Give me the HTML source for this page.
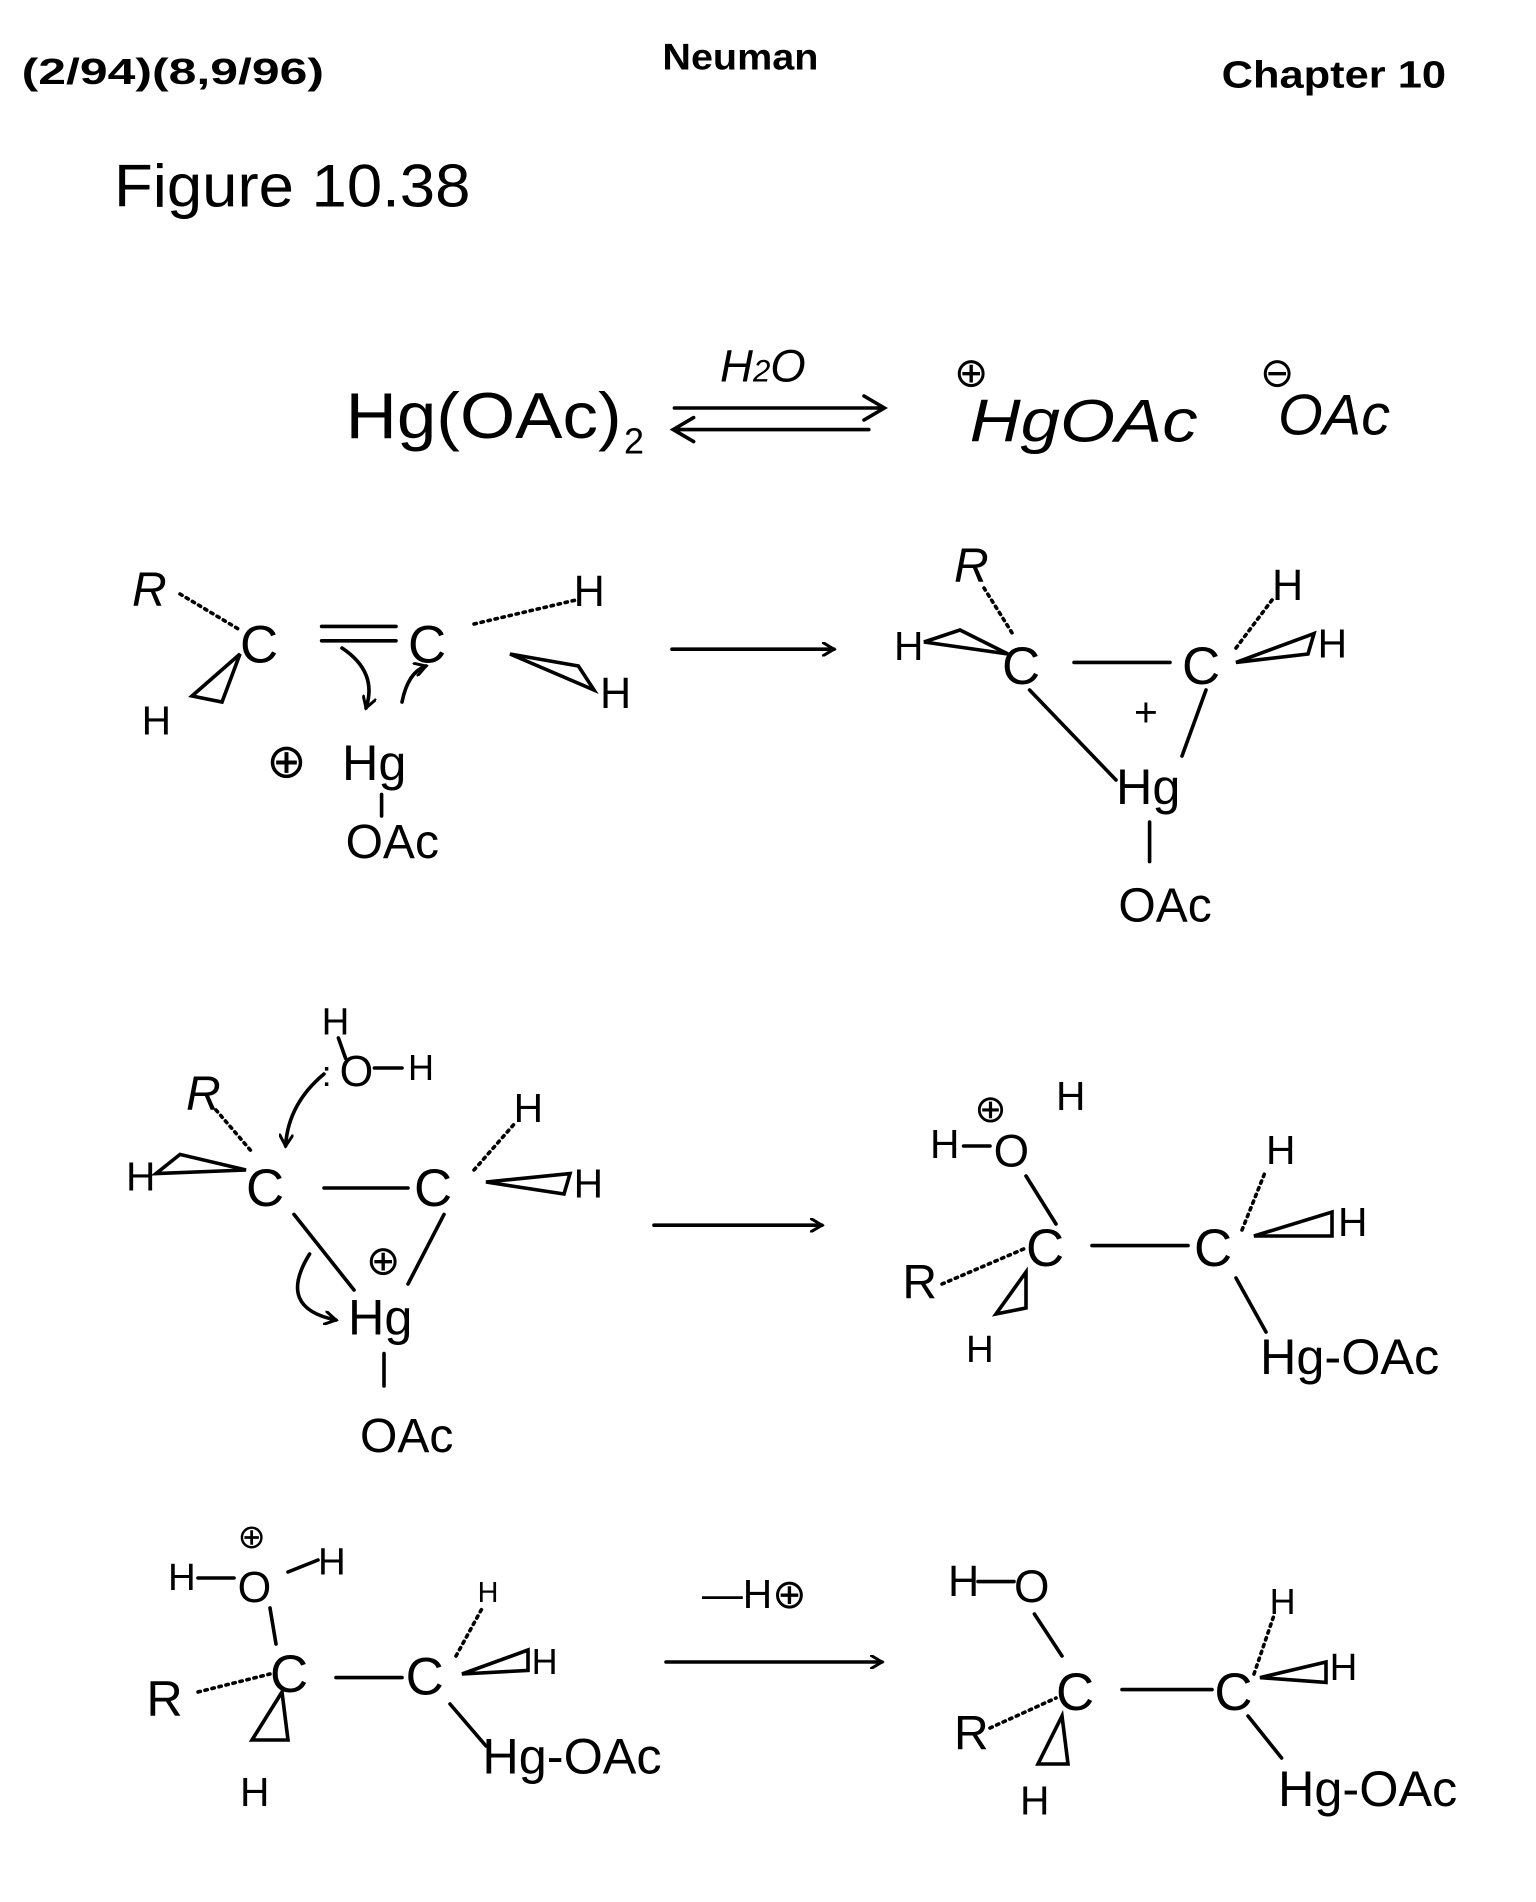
<!DOCTYPE html>
<html><head><meta charset="utf-8"><style>
html,body{margin:0;padding:0;background:#fff;}
svg{display:block;}
text{font-family:"Liberation Sans",sans-serif;fill:#000;}
.l{stroke:#000;stroke-width:3;fill:none;stroke-linecap:round;}
</style></head><body>
<svg width="1536" height="1902" viewBox="0 0 1280 1585" xmlns="http://www.w3.org/2000/svg">
<defs>
<marker id="ah" markerWidth="12" markerHeight="12" refX="10" refY="6" orient="auto" markerUnits="userSpaceOnUse">
<path d="M0,0 L10,6 L0,12" fill="none" stroke="#000" stroke-width="2.5"/></marker>
</defs>
<!-- header -->
<text x="18" y="70" font-size="30" font-weight="bold" textLength="252" lengthAdjust="spacingAndGlyphs">(2/94)(8,9/96)</text>
<text x="552" y="58" font-size="31" font-weight="bold" textLength="130" lengthAdjust="spacingAndGlyphs">Neuman</text>
<text x="1018" y="73" font-size="32" font-weight="bold" textLength="187" lengthAdjust="spacingAndGlyphs">Chapter 10</text>
<text x="95" y="172" font-size="50" textLength="297" lengthAdjust="spacingAndGlyphs">Figure 10.38</text>

<!-- row 1 -->
<text x="288" y="365" font-size="54" textLength="230" lengthAdjust="spacingAndGlyphs">Hg(OAc)</text><text x="520" y="378" font-size="30">2</text>
<text x="600" y="318" font-size="38" font-style="italic">H<tspan font-size="26">2</tspan>O</text>
<path class="l" d="M562 340 L735 340 M720 330 L737 340 L720 350"/>
<path class="l" d="M724 358 L563 358 M578 348 L561 358 L578 368"/>
<text x="795" y="322" font-size="34">⊕</text>
<text x="808" y="368" font-size="50" font-style="italic" textLength="190" lengthAdjust="spacingAndGlyphs">HgOAc</text>
<text x="1050" y="322" font-size="34">⊖</text>
<text x="1065" y="362" font-size="48" font-style="italic">OAc</text>

<!-- row 2 left -->
<text x="110" y="505" font-size="40" font-style="italic">R</text>
<path class="l" d="M150 495 L200 525" stroke-dasharray="2 4" stroke-width="6"/>
<text x="200" y="552" font-size="44">C</text>
<path class="l" d="M268 522 L330 522 M268 534 L330 534"/>
<text x="340" y="552" font-size="44">C</text>
<path class="l" d="M395 520 L480 500" stroke-dasharray="2 4" stroke-width="6"/>
<text x="478" y="505" font-size="36">H</text>
<path class="l" d="M425 545 L495 575 L482 555 Z"/>
<text x="500" y="590" font-size="36">H</text>
<path class="l" d="M200 545 L160 580 L185 585 Z"/>
<text x="118" y="612" font-size="34">H</text>
<path class="l" d="M285 540 Q315 560 305 590" marker-end="url(#ah)"/>
<path class="l" d="M335 585 Q340 560 355 555" marker-end="url(#ah)"/>
<text x="222" y="648" font-size="40">⊕</text>
<text x="285" y="650" font-size="42">Hg</text>
<path class="l" d="M318 662 L318 680"/>
<text x="288" y="715" font-size="40">OAc</text>
<path class="l" d="M560 541 L695 541" marker-end="url(#ah)"/>

<!-- row 2 right -->
<text x="795" y="485" font-size="40" font-style="italic">R</text>
<path class="l" d="M820 490 L845 530" stroke-dasharray="2 4" stroke-width="6"/>
<text x="745" y="550" font-size="34">H</text>
<path class="l" d="M770 535 L840 545 L800 525 Z"/>
<text x="835" y="570" font-size="44">C</text>
<path class="l" d="M895 552 L975 552"/>
<text x="985" y="570" font-size="44">C</text>
<path class="l" d="M1030 540 L1060 500" stroke-dasharray="2 4" stroke-width="6"/>
<text x="1060" y="500" font-size="36">H</text>
<path class="l" d="M1030 552 L1095 528 L1090 545 Z"/>
<text x="1098" y="548" font-size="34">H</text>
<path class="l" d="M858 575 L930 650 M1005 575 L985 630"/>
<text x="945" y="605" font-size="34">+</text>
<text x="930" y="670" font-size="42">Hg</text>
<path class="l" d="M958 685 L958 718"/>
<text x="932" y="768" font-size="40">OAc</text>

<!-- row 3 left -->
<text x="268" y="862" font-size="32">H</text>
<path class="l" d="M282 865 L288 882"/>
<text x="283" y="905" font-size="36">O</text>
<path class="l" d="M312 890 L335 890"/>
<text x="340" y="900" font-size="30">H</text>
<text x="268" y="905" font-size="30">:</text>
<text x="155" y="925" font-size="40" font-style="italic">R</text>
<path class="l" d="M180 925 L210 960" stroke-dasharray="2 4" stroke-width="6"/>
<text x="105" y="992" font-size="34">H</text>
<path class="l" d="M130 978 L205 975 L150 962 Z"/>
<text x="205" y="1005" font-size="44">C</text>
<path class="l" d="M270 895 Q240 920 238 955" marker-end="url(#ah)"/>
<path class="l" d="M270 990 L340 990"/>
<text x="345" y="1005" font-size="44">C</text>
<path class="l" d="M395 975 L430 935" stroke-dasharray="2 4" stroke-width="6"/>
<text x="428" y="935" font-size="34">H</text>
<path class="l" d="M405 985 L475 978 L470 995 Z"/>
<text x="478" y="998" font-size="34">H</text>
<path class="l" d="M245 1012 L295 1075 M370 1012 L340 1070"/>
<text x="305" y="1062" font-size="34">⊕</text>
<text x="290" y="1112" font-size="42">Hg</text>
<path class="l" d="M258 1045 Q230 1090 280 1100" marker-end="url(#ah)"/>
<path class="l" d="M320 1128 L320 1155"/>
<text x="300" y="1210" font-size="40">OAc</text>
<path class="l" d="M545 1021 L685 1021" marker-end="url(#ah)"/>

<!-- row 3 right -->
<text x="775" y="965" font-size="34">H</text>
<path class="l" d="M803 955 L825 955"/>
<text x="812" y="935" font-size="32">⊕</text>
<text x="880" y="925" font-size="34">H</text>
<text x="828" y="972" font-size="38">O</text>
<path class="l" d="M855 980 L880 1020"/>
<text x="752" y="1082" font-size="40">R</text>
<path class="l" d="M785 1070 L855 1040" stroke-dasharray="2 4" stroke-width="6"/>
<text x="855" y="1055" font-size="44">C</text>
<path class="l" d="M855 1060 L830 1095 L855 1090 Z"/>
<text x="805" y="1135" font-size="32">H</text>
<path class="l" d="M910 1038 L990 1038"/>
<text x="995" y="1055" font-size="44">C</text>
<path class="l" d="M1035 1025 L1055 975" stroke-dasharray="2 4" stroke-width="6"/>
<text x="1055" y="970" font-size="34">H</text>
<path class="l" d="M1045 1030 L1110 1010 L1110 1030 Z"/>
<text x="1115" y="1030" font-size="34">H</text>
<path class="l" d="M1030 1065 L1055 1110"/>
<text x="1050" y="1145" font-size="42">Hg-OAc</text>

<!-- row 4 left -->
<text x="140" y="1325" font-size="32">H</text>
<path class="l" d="M165 1315 L195 1315"/>
<text x="198" y="1290" font-size="28">⊕</text>
<text x="198" y="1335" font-size="36">O</text>
<path class="l" d="M240 1310 L265 1300"/>
<text x="265" y="1312" font-size="32">H</text>
<path class="l" d="M225 1340 L230 1370"/>
<text x="122" y="1430" font-size="42">R</text>
<path class="l" d="M165 1410 L225 1395" stroke-dasharray="2 4" stroke-width="6"/>
<text x="225" y="1410" font-size="44">C</text>
<path class="l" d="M235 1410 L210 1450 L240 1450 Z"/>
<text x="200" y="1505" font-size="34">H</text>
<path class="l" d="M280 1398 L335 1398"/>
<text x="338" y="1412" font-size="44">C</text>
<path class="l" d="M380 1380 L403 1338" stroke-dasharray="2 4" stroke-width="6"/>
<text x="398" y="1335" font-size="24">H</text>
<path class="l" d="M385 1395 L440 1375 L440 1392 Z"/>
<text x="443" y="1395" font-size="30">H</text>
<path class="l" d="M375 1420 L405 1455"/>
<text x="402" y="1478" font-size="42">Hg-OAc</text>
<text x="585" y="1340" font-size="34">—H⊕</text>
<path class="l" d="M555 1385 L735 1385" marker-end="url(#ah)"/>

<!-- row 4 right -->
<text x="790" y="1330" font-size="36">H</text>
<path class="l" d="M815 1318 L845 1318"/>
<text x="845" y="1335" font-size="38">O</text>
<path class="l" d="M862 1345 L885 1380"/>
<text x="795" y="1458" font-size="40">R</text>
<path class="l" d="M825 1440 L880 1415" stroke-dasharray="2 4" stroke-width="6"/>
<text x="880" y="1425" font-size="44">C</text>
<path class="l" d="M885 1430 L865 1470 L890 1470 Z"/>
<text x="850" y="1512" font-size="34">H</text>
<path class="l" d="M935 1408 L1010 1408"/>
<text x="1012" y="1425" font-size="44">C</text>
<path class="l" d="M1045 1395 L1062 1345" stroke-dasharray="2 4" stroke-width="6"/>
<text x="1058" y="1345" font-size="30">H</text>
<path class="l" d="M1050 1398 L1105 1385 L1105 1402 Z"/>
<text x="1108" y="1400" font-size="32">H</text>
<path class="l" d="M1040 1430 L1068 1465"/>
<text x="1065" y="1505" font-size="42">Hg-OAc</text>
</svg>
</body></html>
